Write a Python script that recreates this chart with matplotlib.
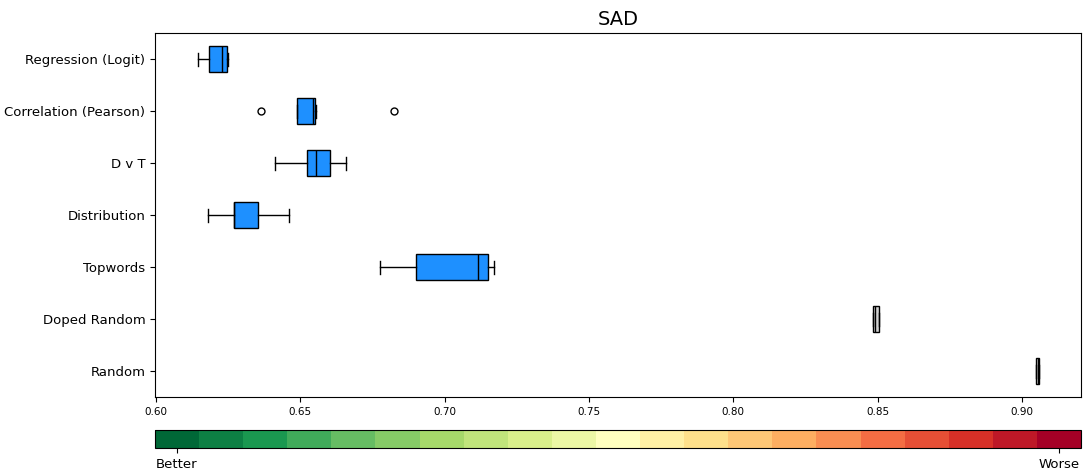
import matplotlib.pyplot as plt
import matplotlib as mpl
import numpy as np

# methods listed top to bottom
methods = ["Regression (Logit)", "Correlation (Pearson)", "D v T", "Distribution",
           "Topwords", "Doped Random", "Random"]

# box statistics
whislo = [0.6146, 0.6489, 0.6412, 0.6180, 0.6776, 0.8484, 0.9049]
q1 = [0.6184, 0.6489, 0.6523, 0.6270, 0.6901, 0.8484, 0.9049]
med = [0.6229, 0.6544, 0.6554, 0.6270, 0.7116, 0.8492, 0.9054]
q3 = [0.6246, 0.6551, 0.6603, 0.6353, 0.7150, 0.8505, 0.9059]
whishi = [0.6250, 0.6553, 0.6658, 0.6461, 0.7171, 0.8505, 0.9059]
fliers = [[], [0.6364, 0.6825], [], [], [], [], []]
colors = ["dodgerblue"] * 5 + ["lightgray"] * 2

fig = plt.figure(figsize=(10.86, 4.74), dpi=100)
ax = fig.add_axes([155 / 1086, 1 - 397 / 474, 926 / 1086, 364 / 474])

stats = []
for i in range(len(methods)):
    stats.append(dict(label=methods[i], whislo=whislo[i], q1=q1[i], med=med[i],
                      q3=q3[i], whishi=whishi[i], fliers=fliers[i]))

# reverse so the first method is at the top
pos = np.arange(len(methods), 0, -1)
bp = ax.bxp(stats, positions=pos, vert=False, patch_artist=True, widths=0.5,
            medianprops=dict(color="black"),
            flierprops=dict(marker="o", markerfacecolor="none", markeredgecolor="black", markersize=5))
for patch, c in zip(bp["boxes"], colors):
    patch.set_facecolor(c)
    patch.set_edgecolor("black")

ax.set_xlim(0.5997, 0.9204)
ax.set_ylim(0.5, len(methods) + 0.5)
ax.set_title("SAD", fontsize=14)
ax.tick_params(axis="x", labelsize=7.5)
ax.tick_params(axis="y", labelsize=9.5)

# discrete colour bar below
cax = fig.add_axes([155 / 1086, 1 - 448 / 474, 926 / 1086, 18 / 474])
n = 21
cmap = mpl.colormaps["RdYlGn_r"].resampled(n)
norm = mpl.colors.BoundaryNorm(np.arange(-0.5, n + 0.5), n)
cb = fig.colorbar(mpl.cm.ScalarMappable(norm=norm, cmap=cmap), cax=cax, orientation="horizontal")
cb.minorticks_off()
cb.set_ticks([0, n - 1])
cb.set_ticklabels(["Better", "Worse"])
cb.ax.tick_params(labelsize=9.5)

fig.savefig("out.png", dpi=100)
